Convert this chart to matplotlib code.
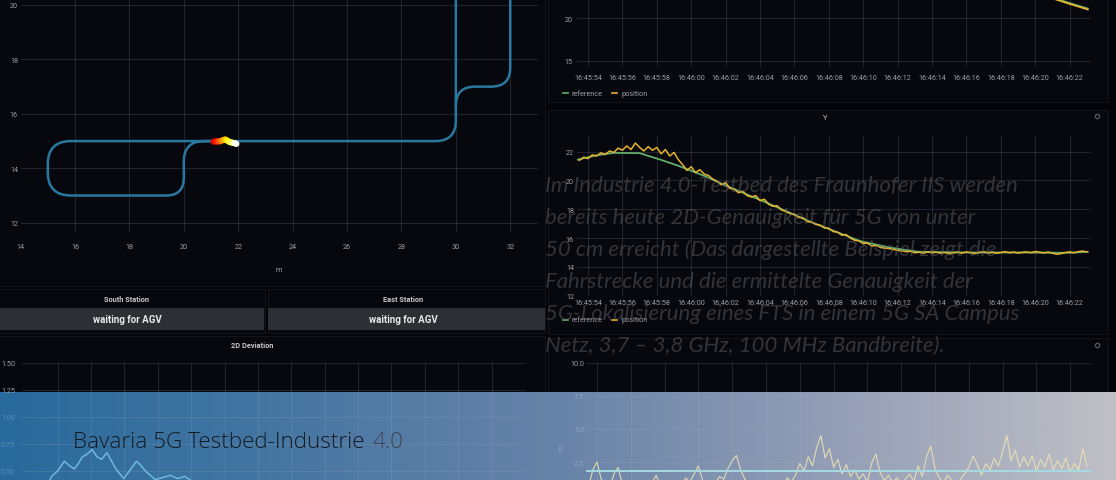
import numpy as np
import matplotlib
matplotlib.use("Agg")
import matplotlib.pyplot as plt
from matplotlib.path import Path
from matplotlib.patches import PathPatch, Rectangle
from matplotlib.lines import Line2D
from matplotlib import font_manager as fm

W, H, DPI = 1116, 481, 100

# ---------------- data ----------------
# AGV track layout in metres: corner points and fillet radius per inner corner
track_main = [(30.0, 21.5), (30.0, 15.0), (15.0, 15.0), (15.0, 13.0),
              (20.0, 13.0), (20.0, 15.0), (21.6, 15.0)]
track_main_r = [0.75, 0.85, 0.85, 0.65, 0.75]
track_branch = [(30.0, 16.3), (30.0, 17.0), (32.0, 17.0), (32.0, 21.5)]
track_branch_r = [0.7, 0.7]

# latest AGV positions, oldest first
agv_x = [21.10, 21.16, 21.22, 21.28, 21.34, 21.40, 21.46, 21.52,
         21.58, 21.64, 21.70, 21.76, 21.82, 21.88, 21.93]
agv_y = [14.98, 14.99, 14.98, 15.00, 14.99, 15.02, 15.04, 15.06,
         15.03, 14.99, 14.96, 14.95, 14.93, 14.92, 14.90]

map_xticks = [14, 16, 18, 20, 22, 24, 26, 28, 30, 32]
map_yticks = [12, 14, 16, 18, 20]

# time axis in seconds after 16:45:54
time_ticks = [0, 2, 4, 6, 8, 10, 12, 14, 16, 18, 20, 22, 24, 26, 28]
time_labels = ["16:45:54", "16:45:56", "16:45:58", "16:46:00", "16:46:02",
               "16:46:04", "16:46:06", "16:46:08", "16:46:10", "16:46:12",
               "16:46:14", "16:46:16", "16:46:18", "16:46:20", "16:46:22"]

# X coordinate
x_t = [-0.6, 19.0, 20.0, 22.0, 24.0, 26.0, 27.0, 28.0, 29.05]
x_ref = [30.0, 30.0, 29.2, 27.0, 25.0, 23.2, 22.45, 21.8, 21.15]
x_pos = [29.9, 30.05, 29.1, 26.9, 24.9, 23.1, 22.35, 21.7, 21.05]
x_yticks = [15, 20]

# Y coordinate: reference track and measured position (every 0.25 s from -0.5 s)
y_ref_t = [-0.6, 0.5, 1.5, 3.0, 4.2, 5.3, 6.8, 8.3, 10.5, 13.0, 15.8,
           17.5, 19.2, 22.0, 25.0, 28.0, 29.05]
y_ref = [21.45, 21.75, 21.92, 21.9, 21.45, 21.0, 20.3, 19.5, 18.4, 17.1,
         15.8, 15.35, 15.05, 15.0, 15.0, 14.98, 15.05]
y_pos_t0, y_pos_dt = -0.5, 0.25
y_pos = [21.40, 21.62, 21.52, 21.78, 21.70, 21.92, 21.80, 22.05,
         21.95, 22.25, 22.10, 22.40, 22.15, 22.60, 22.30, 22.05,
         22.35, 22.10, 22.30, 21.85, 22.15, 21.70, 21.95, 21.45,
         21.10, 20.70, 20.95, 20.55, 20.75, 20.45, 20.35, 20.10,
         19.95, 19.70, 19.85, 19.45, 19.40, 19.15, 19.25, 18.95,
         18.85, 18.95, 18.60, 18.70, 18.35, 18.20, 18.25, 17.95,
         17.85, 17.70, 17.65, 17.45, 17.40, 17.15, 17.10, 16.95,
         16.90, 16.70, 16.68, 16.45, 16.42, 16.20, 16.25, 16.00,
         15.85, 15.80, 15.62, 15.65, 15.45, 15.50, 15.35, 15.30,
         15.28, 15.22, 15.15, 15.12, 15.05, 15.08, 14.98, 15.02,
         14.95, 15.05, 14.98, 15.02, 14.95, 15.00, 14.92, 14.98,
         15.02, 14.96, 15.04, 14.98, 14.93, 15.00, 15.05, 14.97,
         15.02, 14.95, 15.00, 15.06, 14.98, 15.03, 14.96, 15.01,
         15.04, 14.99, 15.07, 15.02, 14.97, 15.03, 14.95, 14.88,
         14.92, 15.00, 15.05, 14.98, 15.06, 15.10, 15.04]
y_yticks = [12, 14, 16, 18, 20, 22]

# 2D deviation (left panel)
dev_t = [-2.1, -1.6, -1.1, -0.7, -0.36, 0.0, 0.41, 0.7, 1.0, 1.25, 1.48,
         1.8, 2.07, 2.37, 2.65, 2.96, 3.2, 3.49, 3.75, 3.96, 4.3, 4.73,
         5.0, 5.27, 5.55, 5.86, 6.3, 6.75, 7.2, 7.63, 8.1, 8.7, 9.5, 10.5,
         11.5, 12.5, 13.5, 14.5, 15.5, 16.5, 17.5, 18.5, 19.5, 20.5, 21.5,
         22.5, 23.5, 24.5, 25.5, 26.5, 27.5]
dev_v = [0.28, 0.31, 0.27, 0.33, 0.45, 0.50, 0.59, 0.55, 0.52, 0.57, 0.63,
         0.66, 0.70, 0.63, 0.61, 0.67, 0.60, 0.52, 0.47, 0.43, 0.50, 0.59,
         0.55, 0.50, 0.46, 0.42, 0.44, 0.46, 0.43, 0.45, 0.40, 0.37, 0.33,
         0.30, 0.28, 0.31, 0.26, 0.29, 0.25, 0.27, 0.24, 0.22, 0.26, 0.23,
         0.21, 0.25, 0.22, 0.24, 0.20, 0.23, 0.21]
dev_yticks = [0.50, 0.75, 1.00, 1.25, 1.50]
dev_ylabels = ["0.50", "0.75", "1.00", "1.25", "1.50"]

# deviation samples (right lower panel), every 0.25 s from -0.5 s
err_t0, err_dt = -0.5, 0.25
err_v = [0.6, 1.9, 2.5, 1.2, 0.7, 0.5, 1.6, 2.1,
         0.8, 0.4, 0.6, 0.5, 0.7, 0.4, 0.6, 0.9,
         1.5, 0.7, 0.5, 0.6, 0.4, 0.8, 0.6, 1.3,
         1.0, 1.6, 2.2, 1.1, 0.7, 0.5, 0.9, 1.4,
         1.2, 2.0, 2.6, 3.0, 1.9, 1.2, 0.8, 0.6,
         0.5, 0.7, 0.9, 0.6, 0.8, 1.1, 0.7, 1.3,
         1.0, 1.5, 2.4, 1.8, 2.9, 2.2, 3.6, 4.5,
         2.8, 3.5, 2.1, 2.7, 1.6, 2.3, 1.4, 1.9,
         1.2, 1.6, 1.0, 2.4, 3.1, 1.7, 1.1, 1.5,
         0.9, 1.3, 0.8, 1.2, 1.6, 1.0, 2.2, 1.4,
         2.9, 3.7, 2.0, 1.3, 0.9, 1.5, 1.1, 0.8,
         1.2, 1.6, 2.1, 2.95, 2.3, 1.5, 2.4, 1.9,
         2.8, 2.2, 3.3, 4.5, 2.6, 3.4, 2.1, 2.9,
         2.2, 3.0, 1.8, 2.7, 2.1, 3.1, 1.9, 2.6,
         2.0, 2.8, 1.7, 2.4, 1.9, 3.5, 2.2]
err_threshold = 1.8
err_yticks = [2.5, 5.0, 7.5, 10.0]
err_ylabels = ["2.5", "5.0", "7.5", "10.0"]

caption_lines = [
    "Im Industrie 4.0-Testbed des Fraunhofer IIS werden",
    "bereits heute 2D-Genauigkeit für 5G von unter",
    "50 cm erreicht (Das dargestellte Beispiel zeigt die",
    "Fahrstrecke und die ermittelte Genauigkeit der",
    "5G-Lokalisierung eines FTS in einem 5G SA Campus",
    "Netz, 3,7 – 3,8 GHz, 100 MHz Bandbreite).",
]
banner_title = "Bavaria 5G Testbed-Industrie"
banner_suffix = "4.0"

# ---------------- style ----------------
plt.rcParams["font.family"] = ["Roboto", "DejaVu Sans"]
GAP = "#030409"
PANEL = "#07080d"
PANEL_EDGE = "#13151a"
GRID = "#a8b6c8"
TICK = "#9a9ea5"
BLUE = "#2878a0"
GREEN = "#5fae6a"
YELLOW = "#e5b22d"
BANNER_TOP = 393

fig = plt.figure(figsize=(W / DPI, H / DPI), dpi=DPI, facecolor=GAP)


def px_axes(x0, y0, x1, y1, **kw):
    ax = fig.add_axes([x0 / W, 1 - y1 / H, (x1 - x0) / W, (y1 - y0) / H], **kw)
    ax.set_facecolor("none")
    for s in ax.spines.values():
        s.set_visible(False)
    return ax


def ftext(x, y, s, **kw):
    return fig.text(x / W, 1 - y / H, s, **kw)


# ---------------- background: panels + banner ----------------
bg = fig.add_axes([0, 0, 1, 1], zorder=-10)
bg.axis("off")
panels = [(-5, -5, 545, 287), (-5, 290, 265, 334), (268, 290, 545, 334),
          (-5, 337, 545, 500), (548, -5, 1108, 103), (548, 111, 1108, 335),
          (548, 339, 1108, 500)]
for x0, y0, x1, y1 in panels:
    bg.add_patch(Rectangle((x0, y0), x1 - x0, y1 - y0, facecolor=PANEL,
                           edgecolor=PANEL_EDGE, lw=0.8))
# status boxes
for x0, x1 in [(-5, 264), (268, 545)]:
    bg.add_patch(Rectangle((x0, 309), x1 - x0, 22, facecolor="#2c2f33",
                           edgecolor="none"))
# panel menu icons
bg.plot([1097, 1097], [117, 346], "o", ms=3.2, mfc="none", mec="#5a5f66", mew=0.8)

stops_pos = [0.0, 0.25, 0.5, 0.75, 1.0]
stops_rgb = np.array([(40, 106, 156), (70, 118, 162), (104, 131, 168),
                      (148, 158, 182), (192, 192, 198)]) / 255.0
xs = np.linspace(0, 1, W)
row = np.stack([np.interp(xs, stops_pos, stops_rgb[:, k]) for k in range(3)], axis=-1)
grad = np.repeat(row[None, :, :], H - BANNER_TOP, axis=0)
bg.imshow(grad, extent=(0, W, H, BANNER_TOP), aspect="auto", zorder=5,
          interpolation="bilinear")
bg.set_xlim(0, W)
bg.set_ylim(H, 0)


def style_axis(ax, xpad, ypad):
    ax.tick_params(length=0, labelsize=5.2, labelcolor=TICK)
    ax.tick_params(axis="x", pad=xpad)
    ax.tick_params(axis="y", pad=ypad)
    ax.grid(True, color=GRID, alpha=0.16, lw=0.8)
    ax.set_axisbelow(True)


def rounded_path(pts, radii):
    pts = np.asarray(pts, float)
    verts, codes = [pts[0]], [Path.MOVETO]
    for i in range(1, len(pts) - 1):
        p, a, b = pts[i], pts[i - 1], pts[i + 1]
        r = radii[i - 1]
        u = (a - p) / np.linalg.norm(a - p)
        v = (b - p) / np.linalg.norm(b - p)
        verts += [p + u * r, p, p + v * r]
        codes += [Path.LINETO, Path.CURVE3, Path.CURVE3]
    verts.append(pts[-1])
    codes.append(Path.LINETO)
    return Path(verts, codes)


# ---------------- map panel ----------------
axm = px_axes(20.6, 0, 538, 233)
axm.set_xlim(14, 33.02)
axm.set_ylim(11.66, 20.22)
axm.set_xticks(map_xticks)
axm.set_yticks(map_yticks)
style_axis(axm, 8.2, 1.9)
axm.xaxis.get_gridlines()[0].set_visible(False)
for pts, rr in [(track_main, track_main_r), (track_branch, track_branch_r)]:
    axm.add_patch(PathPatch(rounded_path(pts, rr), fill=False, edgecolor=BLUE,
                            lw=1.8, capstyle="round", joinstyle="round"))
agv_colors = plt.cm.hot(np.linspace(0.33, 1.0, len(agv_x)))
axm.scatter(agv_x, agv_y, s=20, c=agv_colors, edgecolors="none", zorder=4)
ftext(279, 270, "m", fontsize=5.2, color=TICK, ha="center", va="center")


# ---------------- X panel ----------------
axx = px_axes(577, 0, 1091, 68)
axx.set_xlim(-0.64, 29.24)
axx.set_ylim(14.26, 22.28)
axx.set_xticks(time_ticks, time_labels)
axx.set_yticks(x_yticks)
style_axis(axx, 5.3, 2.9)
axx.plot(x_t, x_ref, color=GREEN, lw=1.3)
axx.plot(x_t, x_pos, color=YELLOW, lw=1.3)

# ---------------- Y panel ----------------
axy = px_axes(577, 137, 1091, 296.7)
axy.set_xlim(-0.64, 29.24)
axy.set_ylim(12, 23.09)
axy.set_xticks(time_ticks, time_labels)
axy.set_yticks(y_yticks)
style_axis(axy, 2.7, 2.2)
axy.plot(y_ref_t, y_ref, color=GREEN, lw=1.3)
y_pos_time = y_pos_t0 + y_pos_dt * np.arange(len(y_pos))
axy.plot(y_pos_time, y_pos, color=YELLOW, lw=1.1)
ftext(825, 118, "Y", fontsize=5.5, color="#c8c8c8", ha="center", va="center")


def legend_row(y):
    for x, c, lab in [(563, GREEN, "reference"), (612, YELLOW, "position")]:
        fig.add_artist(Line2D([x / W, (x + 5) / W], [1 - y / H, 1 - y / H],
                              color=c, lw=1.2))
        ftext(x + 9, y, lab, fontsize=5.2, color=TICK, va="center")


legend_row(94)
legend_row(321)

# ---------------- right lower panel ----------------
axe = px_axes(586, 364, 1091, 496)
axe.set_xlim(-0.65, 29.23)
axe.set_ylim(0, 10)
axe.set_xticks(time_ticks)
axe.set_yticks(err_yticks, err_ylabels)
style_axis(axe, 3, 1.4)
axe.tick_params(axis="x", labelbottom=False)
err_time = err_t0 + err_dt * np.arange(len(err_v))
axe.plot(err_time, err_v, color="#ece2b4", lw=0.8, alpha=0.9)
axe.axhline(err_threshold, color="#a6dbe3", lw=1.4)
for lab, v in zip(axe.get_yticklabels(), err_yticks):
    if v < 8:
        lab.set_color((1, 1, 1, 0.25))
ftext(562, 448, "m", fontsize=5, color=(1, 1, 1, 0.25), rotation=90,
      ha="center", va="center")

# ---------------- left lower panel: 2D deviation ----------------
axd = px_axes(22, 364, 525, 526)
axd.set_xlim(-2.13, 27.63)
axd.set_ylim(0, 1.5)
axd.set_xticks(time_ticks)
axd.set_yticks(dev_yticks, dev_ylabels)
style_axis(axd, 3, 5.0)
axd.tick_params(axis="x", labelbottom=False)
axd.plot(dev_t, dev_v, color="#6fb8e0", lw=1.1)
for lab, v in zip(axd.get_yticklabels(), dev_yticks):
    if v < 1.2:
        lab.set_color((1, 1, 1, 0.25))
ftext(252, 346, "2D Deviation", fontsize=5.3, color="#c8c8c8",
      ha="center", va="center", weight="bold")

# ---------------- station status ----------------
for cx, name in [(127, "South Station"), (403, "East Station")]:
    ftext(cx, 300, name, fontsize=5.3, color="#c8c8c8", ha="center",
          va="center", weight="bold")
    ftext(cx, 320, "waiting for AGV", fontsize=7.0, color="#e8e8e8",
          ha="center", va="center", weight="bold")


# ---------------- overlay texts ----------------
def find_face(families, style, weights):
    for fam in families:
        for wt in weights:
            for f in fm.fontManager.ttflist:
                name = f.fname.lower()
                if (f.name == fam and f.style == style and str(f.weight) == str(wt)
                        and f.stretch == "normal"
                        and not any(k in name for k in ("condensed", "narrow", "semi", "["))):
                    return fm.FontProperties(fname=f.fname)
    return None


italic_fp = find_face(["Noto Sans", "Lato", "Roboto", "Open Sans"], "italic", [400, "normal"])
if italic_fp is None:
    italic_fp = fm.FontProperties(family="DejaVu Sans", style="oblique")
light_fp = find_face(["Open Sans", "Lato", "Roboto", "Noto Sans"], "normal", [300, "light"])
if light_fp is None:
    light_fp = fm.FontProperties(family="Open Sans")

renderer = fig.canvas.get_renderer()


def fit(txt, target):
    w = txt.get_window_extent(renderer).width
    txt.set_fontsize(txt.get_fontsize() * target / w)


baselines = [192.3, 224.2, 256.1, 288.0, 319.9, 351.8]
cap_texts = []
for yb, line in zip(baselines, caption_lines):
    t = ftext(545, yb, line, fontproperties=italic_fp, fontsize=13.4,
              color="#6a6a6a", alpha=0.45, va="baseline", ha="left")
    cap_texts.append(t)
fit(cap_texts[0], 1017 - 545)
for t in cap_texts[1:]:
    t.set_fontsize(cap_texts[0].get_fontsize())

full = ftext(73, 447.7, banner_title + " " + banner_suffix, fontproperties=light_fp,
             fontsize=15, va="baseline", ha="left")
fit(full, 403 - 73)
fs = full.get_fontsize()
full.remove()
ftext(73, 447.7, banner_title, fontproperties=light_fp, fontsize=fs,
      color="#141b24", va="baseline", ha="left")
ftext(403, 447.7, banner_suffix, fontproperties=light_fp, fontsize=fs,
      color="#3c4552", va="baseline", ha="right")

fig.savefig("out.png", dpi=DPI, facecolor=GAP)
